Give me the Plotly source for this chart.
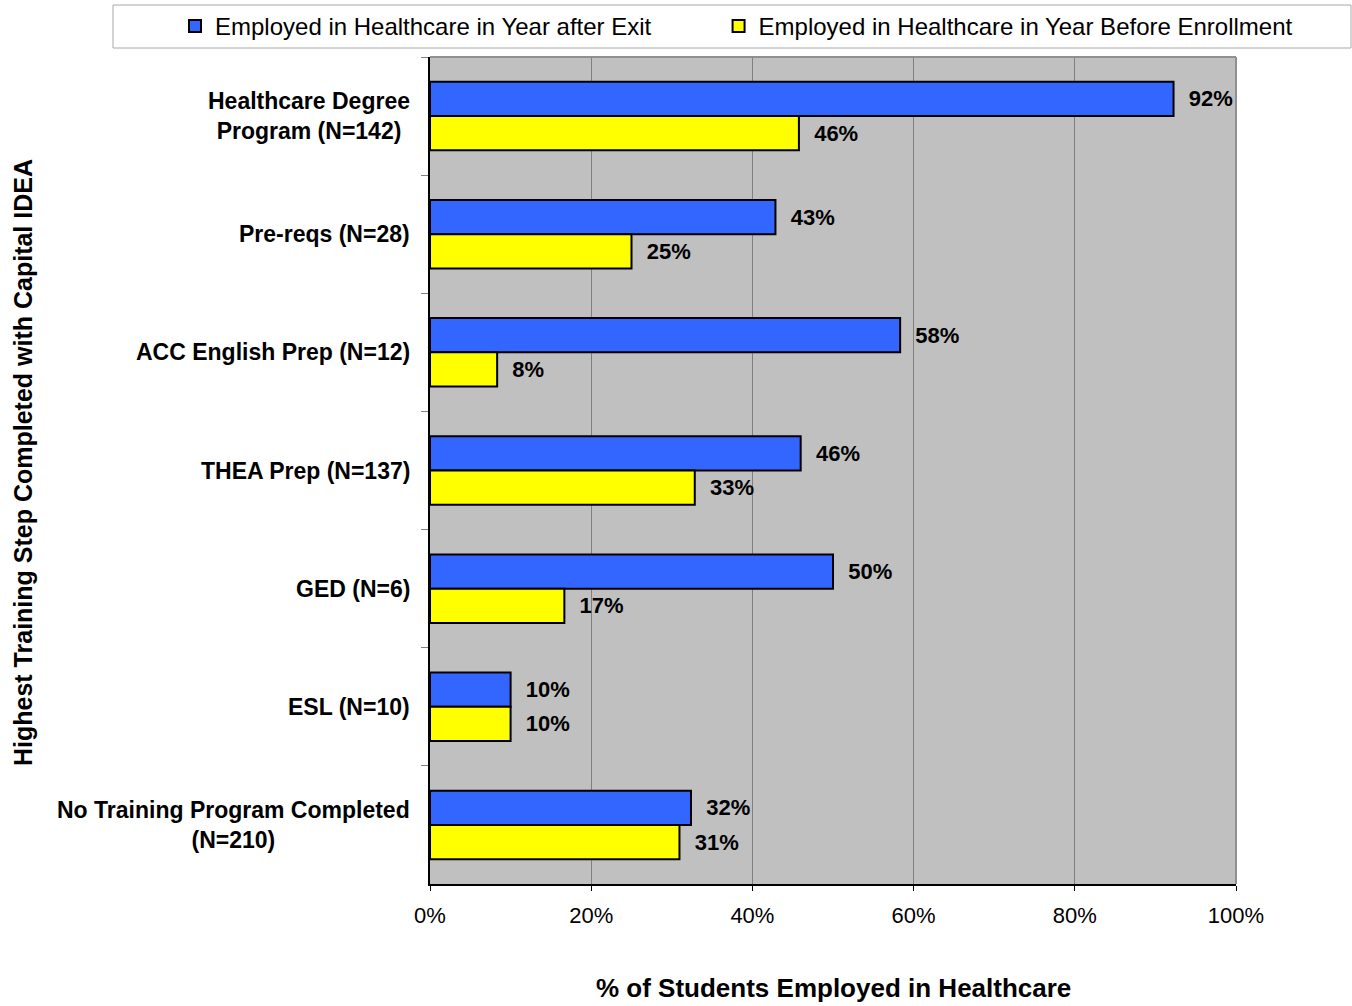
import plotly.graph_objects as go

# Training steps, top to bottom
categories = [
    "Healthcare Degree<br>Program (N=142)",
    "Pre-reqs (N=28)",
    "ACC English Prep (N=12)",
    "THEA Prep (N=137)",
    "GED (N=6)",
    "ESL (N=10)",
    "No Training Program Completed<br>(N=210)",
]

# Share of students employed in healthcare
after_exit = [0.9225, 0.4286, 0.5833, 0.4599, 0.5000, 0.1000, 0.3238]
before_enrollment = [0.4577, 0.2500, 0.0833, 0.3285, 0.1667, 0.1000, 0.3095]

series_names = [
    "Employed in Healthcare in Year after Exit",
    "Employed in Healthcare in Year Before Enrollment",
]

x_ticks = [0, 0.2, 0.4, 0.6, 0.8, 1.0]
x_tick_labels = ["0%", "20%", "40%", "60%", "80%", "100%"]

FONT = "Liberation Sans, Arial, sans-serif"

fig = go.Figure()
for name, values, color in [
    (series_names[0], after_exit, "#3366FF"),
    (series_names[1], before_enrollment, "#FFFF00"),
]:
    fig.add_trace(go.Bar(
        name=name,
        y=categories,
        x=values,
        orientation="h",
        marker=dict(color=color, line=dict(color="black", width=2)),
        texttemplate="  %{x:.0%}",
        textposition="outside",
        constraintext="none",
        cliponaxis=False,
        textfont=dict(family=FONT, size=22, color="black", weight="bold"),
        hoverinfo="skip",
    ))

# Category labels, centred line by line, placed against the y axis
for cat in categories:
    fig.add_annotation(
        x=-0.022, xref="paper", y=cat, yref="y",
        text=f"<b>{cat}</b>", showarrow=False,
        xanchor="right", yanchor="middle", align="center",
        font=dict(family=FONT, size=23, color="black"),
    )

# Plot area: 806 px wide, 827 px tall
PW, PH = 806, 827

# Legend frame spanning the top of the figure
fig.add_shape(
    type="rect", xref="paper", yref="paper",
    x0=(113 - 430) / PW, x1=(1351 - 430) / PW,
    y0=(884 - 48) / PH, y1=(884 - 5) / PH,
    line=dict(color="#A8A8A8", width=1), fillcolor="white", layer="above",
)

# Vertical axis title
fig.add_annotation(
    x=(23 - 430) / PW, xref="paper", y=(884 - 462) / PH, yref="paper",
    text="<b>Highest Training Step Completed with Capital IDEA</b>",
    textangle=-90, showarrow=False, xanchor="center", yanchor="middle",
    font=dict(family=FONT, size=25, color="black"),
)

# Horizontal axis title
fig.add_annotation(
    x=0.5, xref="paper", y=(884 - 988) / PH, yref="paper",
    text="<b>% of Students Employed in Healthcare</b>",
    showarrow=False, xanchor="center", yanchor="middle",
    font=dict(family=FONT, size=26, color="black"),
)

fig.update_layout(
    width=1352, height=1006,
    margin=dict(l=430, r=116, t=57, b=122, autoexpand=False),
    paper_bgcolor="white",
    plot_bgcolor="#C0C0C0",
    barmode="group",
    bargap=0.42,
    bargroupgap=0,
    font=dict(family=FONT, color="black"),
    showlegend=True,
    legend=dict(
        orientation="h",
        xref="paper", yref="paper",
        x=(113 - 430) / PW, y=(884 - 4) / PH,
        xanchor="left", yanchor="top",
        bgcolor="rgba(0,0,0,0)", borderwidth=0,
        font=dict(family=FONT, size=24, color="black"),
        entrywidth=0,
        indentation=62,
        traceorder="normal",
    ),
    xaxis=dict(
        range=[0, 1],
        tickvals=x_ticks, ticktext=x_tick_labels,
        tickfont=dict(family=FONT, size=22, color="black"),
        ticklabelstandoff=6,
        showgrid=True, gridcolor="#808080", gridwidth=1,
        showline=True, linecolor="black", linewidth=1.5,
        mirror=False,
        ticks="outside", ticklen=5, tickcolor="black",
        zeroline=False,
    ),
    yaxis=dict(
        autorange="reversed",
        tickson="boundaries",
        ticks="outside", ticklen=7, tickcolor="#808080",
        showticklabels=False,
        showgrid=False,
        showline=True, linecolor="black", linewidth=1.5,
    ),
)

# Grey frame along the top and right edges of the plot area
fig.add_shape(type="line", xref="paper", yref="paper", x0=0, x1=1, y0=1, y1=1,
              line=dict(color="#909090", width=2))
fig.add_shape(type="line", xref="paper", yref="paper", x0=1, x1=1, y0=0, y1=1,
              line=dict(color="#909090", width=2))

fig.write_html("out.html")
